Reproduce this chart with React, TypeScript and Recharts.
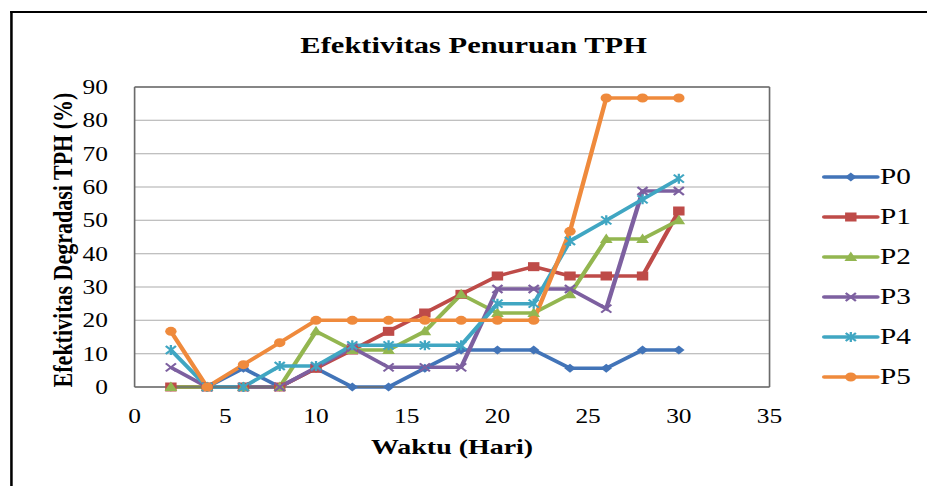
import { LineChart, Line, XAxis, YAxis, CartesianGrid, ReferenceLine } from "recharts";

const days = [2, 4, 6, 8, 10, 12, 14, 16, 18, 20, 22, 24, 26, 28, 30];
const p0 = [0, 0, 5.6, 0, 5.6, 0, 0, 5.6, 11.1, 11.1, 11.1, 5.6, 5.6, 11.1, 11.1];
const p1 = [0, 0, 0, 0, 5.6, 11.1, 16.7, 22.2, 27.8, 33.3, 36.1, 33.3, 33.3, 33.3, 52.8];
const p2 = [0, 0, 0, 0, 16.7, 11.1, 11.1, 16.7, 27.8, 22.2, 22.2, 27.8, 44.4, 44.4, 50];
const p3 = [5.9, 0, 0, 0, 5.9, 11.8, 5.9, 5.9, 5.9, 29.4, 29.4, 29.4, 23.5, 58.8, 58.8];
const p4 = [11.1, 0, 0, 6.3, 6.3, 12.5, 12.5, 12.5, 12.5, 25, 25, 43.8, 50, 56.3, 62.5];
const p5 = [16.7, 0, 6.7, 13.3, 20, 20, 20, 20, 20, 20, 20, 46.7, 86.7, 86.7, 86.7];

const seriesNames = ["P0", "P1", "P2", "P3", "P4", "P5"];
const seriesValues = [p0, p1, p2, p3, p4, p5];
const colors = ["#4274B8", "#BE4B48", "#93B650", "#7D60A0", "#40A6C2", "#EF8A3C"];
const markers = ["diamond", "square", "triangle", "x", "star", "circle"];

const xTicks = [0, 5, 10, 15, 20, 25, 30, 35];
const yTicks = [0, 10, 20, 30, 40, 50, 60, 70, 80, 90];

const title = "Efektivitas Penuruan TPH";
const xLabel = "Waktu (Hari)";
const yLabel = "Efektivitas Degradasi TPH (%)";

const data = days.map((d, i) => {
  const row: Record<string, number> = { day: d };
  seriesNames.forEach((n, j) => (row[n] = seriesValues[j][i]));
  return row;
});

// the source image is stretched sideways, so the whole chart is drawn narrow and scaled
const W = 730;
const H = 486;
const STRETCH = 927 / W;
const serif = "'Liberation Serif', 'Times New Roman', serif";

function Marker({ kind, cx, cy, color }: { kind: string; cx: number; cy: number; color: string }) {
  if (cx == null || cy == null) return null;
  switch (kind) {
    case "diamond":
      return <path d={`M${cx},${cy - 4.5}L${cx + 4.5},${cy}L${cx},${cy + 4.5}L${cx - 4.5},${cy}Z`} fill={color} />;
    case "square":
      return <rect x={cx - 4.5} y={cy - 4.5} width={9} height={9} fill={color} />;
    case "triangle":
      return <path d={`M${cx},${cy - 5.5}L${cx + 5},${cy + 4}L${cx - 5},${cy + 4}Z`} fill={color} />;
    case "x":
      return (
        <path
          d={`M${cx - 4},${cy - 4}L${cx + 4},${cy + 4}M${cx + 4},${cy - 4}L${cx - 4},${cy + 4}`}
          stroke={color}
          strokeWidth={1.8}
        />
      );
    case "star":
      return (
        <path
          d={`M${cx - 4},${cy - 4}L${cx + 4},${cy + 4}M${cx + 4},${cy - 4}L${cx - 4},${cy + 4}M${cx},${cy - 5}L${cx},${cy + 5}`}
          stroke={color}
          strokeWidth={1.8}
        />
      );
    default:
      return <circle cx={cx} cy={cy} r={4.5} fill={color} />;
  }
}

export default function App() {
  return (
    <div
      style={{
        position: "fixed",
        left: 0,
        top: 0,
        width: W,
        height: H,
        background: "#fff",
        transform: `scaleX(${STRETCH})`,
        transformOrigin: "0 0",
        fontFamily: serif,
        overflow: "hidden",
      }}
    >
      <div
        style={{
          position: "absolute",
          left: 7.5,
          top: 11,
          width: W,
          height: H,
          borderTop: "2.5px solid #000",
          borderLeft: "2px solid #000",
        }}
      />
      <LineChart width={W} height={H} data={data} margin={{ top: 87, right: 124, bottom: 59, left: 46 }}>
        <CartesianGrid vertical={false} stroke="#ababab" strokeWidth={1} />
        <XAxis
          dataKey="day"
          type="number"
          domain={[0, 35]}
          ticks={xTicks}
          height={40}
          tickSize={0}
          tickMargin={22}
          axisLine={{ stroke: "#6b6b6b", strokeWidth: 1.3 }}
          tick={{ fill: "#000", fontSize: 20, fontFamily: serif }}
        />
        <YAxis
          type="number"
          domain={[0, 90]}
          ticks={yTicks}
          width={60}
          tickSize={0}
          tickMargin={21}
          axisLine={{ stroke: "#6b6b6b", strokeWidth: 1.3 }}
          tick={{ fill: "#000", fontSize: 20, fontFamily: serif }}
        />
        <ReferenceLine x={35} stroke="#6b6b6b" strokeWidth={1.3} />
        <ReferenceLine y={90} stroke="#6b6b6b" strokeWidth={1.3} />
        {seriesNames.map((name, j) => (
          <Line
            key={name}
            type="linear"
            dataKey={name}
            stroke={colors[j]}
            strokeWidth={3.5}
            isAnimationActive={false}
            dot={(props: any) => (
              <Marker key={`${name}-${props.index}`} kind={markers[j]} cx={props.cx} cy={props.cy} color={colors[j]} />
            )}
            activeDot={false}
          />
        ))}
      </LineChart>

      <div
        style={{
          position: "absolute",
          left: 373,
          top: 33,
          transform: "translateX(-50%)",
          fontSize: 24,
          lineHeight: "24px",
          fontWeight: "bold",
          whiteSpace: "nowrap",
        }}
      >
        {title}
      </div>
      <div
        style={{
          position: "absolute",
          left: 356,
          top: 436,
          transform: "translateX(-50%)",
          fontSize: 22,
          lineHeight: "22px",
          fontWeight: "bold",
          whiteSpace: "nowrap",
        }}
      >
        {xLabel}
      </div>
      <div
        style={{
          position: "absolute",
          left: 49.5,
          top: 240,
          transform: "translate(-50%, -50%) rotate(-90deg)",
          fontSize: 22,
          lineHeight: "22px",
          fontWeight: "bold",
          whiteSpace: "nowrap",
        }}
      >
        {yLabel}
      </div>

      {seriesNames.map((name, j) => {
        const y = 177 + j * 40;
        return (
          <div key={name} style={{ position: "absolute", left: 647, top: y - 12, height: 24, display: "flex", alignItems: "center" }}>
            <svg width={46} height={24} style={{ overflow: "visible" }}>
              <line x1={2} y1={12} x2={44} y2={12} stroke={colors[j]} strokeWidth={3.5} strokeLinecap="round" />
              <Marker kind={markers[j]} cx={23} cy={12} color={colors[j]} />
            </svg>
            <span style={{ fontSize: 23, lineHeight: "24px", marginLeft: 0 }}>{name}</span>
          </div>
        );
      })}
    </div>
  );
}
